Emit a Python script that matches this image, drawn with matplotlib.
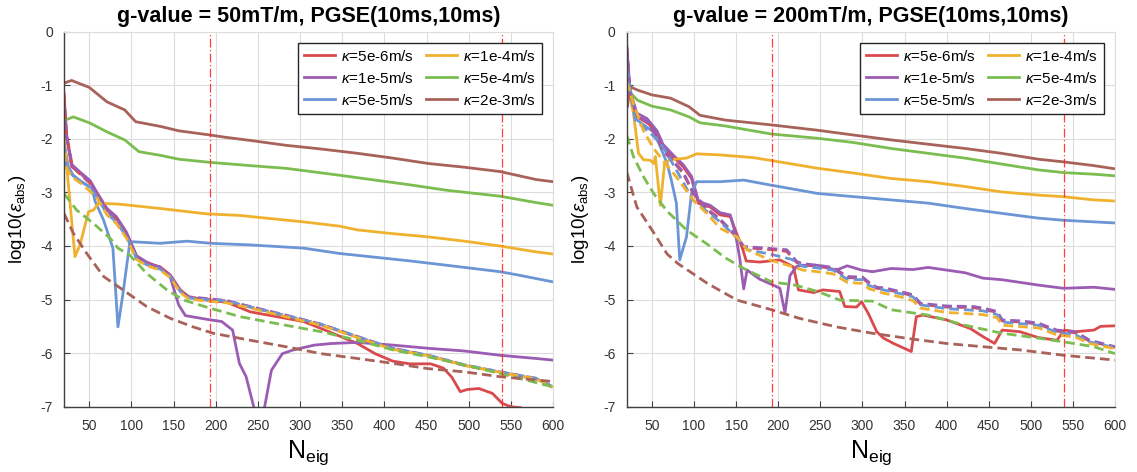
import matplotlib
matplotlib.use("Agg")
import matplotlib.pyplot as plt

# ----- Matplotlib settings -----
plt.rcParams["font.family"] = ["Liberation Sans", "DejaVu Sans"]
plt.rcParams["mathtext.fontset"] = "custom"
plt.rcParams["mathtext.rm"] = "Liberation Sans"
plt.rcParams["mathtext.it"] = "Liberation Sans:italic"
plt.rcParams["mathtext.bf"] = "Liberation Sans:bold"
plt.rcParams["axes.unicode_minus"] = False

# ===== data: left panel, g = 50 mT/m =====
# solid lines
N_L_5e6 = [20, 23, 29, 39, 51, 59, 71, 82, 94, 106, 118, 134, 146, 158, 168, 189, 213, 241, 283, 304, 325, 368,
           389, 410, 430, 455, 470, 480, 490, 498, 512, 528, 540, 550, 562, 575]
Y_L_5e6 = [-1.15, -1.90, -2.52, -2.64, -2.80, -3.02, -3.33, -3.48, -3.76, -4.20, -4.32, -4.39, -4.54, -4.82, -4.95,
           -5.01, -5.05, -5.23, -5.35, -5.41, -5.54, -5.82, -6.01, -6.15, -6.20, -6.20, -6.28, -6.45, -6.72, -6.68,
           -6.66, -6.75, -6.94, -7.00, -7.02, -7.40]
N_L_1e5 = [20, 23, 29, 39, 51, 59, 71, 82, 94, 106, 118, 134, 146, 156, 164, 190, 207, 220, 228, 236, 245, 250,
           258, 266, 279, 292, 317, 338, 368, 410, 452, 495, 537, 580, 600]
Y_L_1e5 = [-1.35, -1.95, -2.48, -2.62, -2.78, -3.00, -3.30, -3.45, -3.74, -4.18, -4.30, -4.40, -4.58, -5.10, -5.30,
           -5.37, -5.41, -5.57, -6.19, -6.44, -7.00, -7.30, -7.00, -6.32, -6.01, -5.94, -5.85, -5.82, -5.80, -5.85,
           -5.91, -5.96, -6.04, -6.10, -6.13]
N_L_5e5 = [20, 25, 31, 43, 53, 57, 67, 78, 84, 90, 98, 100, 134, 166, 194, 241, 304, 347, 389, 431, 474, 537, 558, 600]
Y_L_5e5 = [-2.05, -2.52, -2.68, -2.83, -2.92, -3.17, -3.52, -4.04, -5.51, -4.88, -3.94, -3.92, -3.95, -3.91, -3.95,
           -3.98, -4.04, -4.14, -4.21, -4.28, -4.36, -4.48, -4.54, -4.67]
N_L_1e4 = [20, 26, 33, 39, 49, 55, 61, 86, 134, 189, 229, 241, 304, 347, 368, 410, 452, 495, 537, 580, 600]
Y_L_1e4 = [-1.93, -3.00, -4.20, -3.98, -3.36, -3.33, -3.20, -3.22, -3.30, -3.40, -3.43, -3.45, -3.55, -3.63, -3.70,
           -3.77, -3.83, -3.91, -4.00, -4.11, -4.15]
N_L_5e4 = [20, 31, 50, 71, 92, 109, 135, 156, 194, 241, 283, 308, 347, 389, 431, 474, 537, 580, 600]
Y_L_5e4 = [-1.66, -1.59, -1.70, -1.87, -2.02, -2.24, -2.31, -2.38, -2.44, -2.50, -2.55, -2.60, -2.68, -2.77, -2.86,
           -2.96, -3.07, -3.19, -3.24]
N_L_2e3 = [20, 29, 50, 71, 92, 105, 135, 156, 194, 211, 241, 283, 325, 368, 410, 452, 495, 537, 580, 600]
Y_L_2e3 = [-0.96, -0.91, -1.04, -1.31, -1.46, -1.68, -1.77, -1.85, -1.93, -1.97, -2.03, -2.12, -2.19, -2.27, -2.36,
           -2.46, -2.53, -2.61, -2.76, -2.80]

# dashed lines
N_L_dash = [20, 23, 30, 39, 51, 59, 71, 82, 94, 106, 118, 134, 146, 158, 168, 189, 213, 241, 283, 325, 368, 410,
            452, 495, 537, 580, 600]
Y_L_5e6_d = [-1.18, -1.92, -2.52, -2.66, -2.83, -3.04, -3.35, -3.50, -3.78, -4.21, -4.33, -4.41, -4.56, -4.84,
             -4.96, -4.99, -5.03, -5.14, -5.30, -5.47, -5.70, -5.92, -6.05, -6.23, -6.36, -6.48, -6.64]
Y_L_1e5_d = [-1.38, -1.98, -2.50, -2.64, -2.81, -3.02, -3.33, -3.49, -3.77, -4.20, -4.32, -4.40, -4.55, -4.83,
             -4.95, -4.98, -5.02, -5.13, -5.29, -5.46, -5.69, -5.91, -6.04, -6.22, -6.35, -6.47, -6.63]
Y_L_5e5_d = [-2.08, -2.50, -2.68, -2.78, -2.90, -3.08, -3.40, -3.55, -3.82, -4.23, -4.35, -4.43, -4.57, -4.85,
             -4.97, -5.00, -5.03, -5.14, -5.30, -5.46, -5.69, -5.91, -6.04, -6.22, -6.35, -6.47, -6.63]
Y_L_1e4_d = [-2.24, -2.55, -2.72, -2.82, -2.98, -3.10, -3.42, -3.58, -3.85, -4.25, -4.37, -4.45, -4.59, -4.87,
             -4.99, -5.03, -5.06, -5.16, -5.32, -5.48, -5.71, -5.93, -6.05, -6.23, -6.36, -6.48, -6.64]
N_L_5e4_d = [20, 35, 55, 75, 84, 98, 118, 142, 162, 193, 229, 283, 325, 368, 410, 452, 495, 537, 600]
Y_L_5e4_d = [-3.02, -3.33, -3.58, -3.86, -4.04, -4.17, -4.51, -4.82, -5.01, -5.16, -5.32, -5.48, -5.60, -5.76,
             -5.94, -6.07, -6.22, -6.38, -6.63]
N_L_2e3_d = [20, 31, 47, 67, 90, 118, 146, 173, 197, 241, 283, 325, 368, 410, 452, 495, 537, 600]
Y_L_2e3_d = [-3.39, -3.76, -4.14, -4.57, -4.82, -5.13, -5.35, -5.51, -5.63, -5.76, -5.88, -6.01, -6.10, -6.19,
             -6.29, -6.35, -6.44, -6.53]

# ===== data: right panel, g = 200 mT/m =====
N_R_5e6 = [20, 24, 32, 44, 56, 63, 75, 87, 97, 105, 111, 119, 131, 143, 149, 158, 162, 178, 202, 218, 224, 242,
           253, 273, 279, 293, 299, 307, 317, 325, 337, 358, 364, 372, 400, 428, 443, 457, 466, 487, 509, 531, 540,
           553, 575, 583, 600]
Y_R_5e6 = [-0.30, -1.21, -1.59, -1.68, -1.90, -2.15, -2.33, -2.52, -2.74, -3.20, -3.24, -3.27, -3.42, -3.45, -3.70,
           -4.07, -4.28, -4.30, -4.26, -4.39, -4.82, -4.87, -4.82, -4.85, -5.13, -5.14, -5.04, -5.26, -5.60, -5.72,
           -5.82, -5.97, -5.32, -5.29, -5.38, -5.54, -5.69, -5.82, -5.57, -5.60, -5.71, -5.76, -5.57, -5.60, -5.57,
           -5.50, -5.49]
N_R_1e5 = [20, 24, 32, 44, 56, 63, 75, 87, 97, 105, 111, 119, 131, 143, 149, 154, 159, 163, 178, 194, 202, 208,
           214, 222, 229, 247, 269, 282, 299, 312, 334, 360, 378, 422, 443, 466, 509, 539, 575, 600]
Y_R_1e5 = [-0.25, -1.10, -1.52, -1.62, -1.85, -2.10, -2.30, -2.48, -2.70, -3.15, -3.20, -3.24, -3.38, -3.42, -3.76,
           -4.20, -4.80, -4.45, -4.62, -4.73, -4.79, -5.25, -4.55, -4.38, -4.36, -4.36, -4.45, -4.37, -4.45, -4.48,
           -4.42, -4.44, -4.40, -4.50, -4.60, -4.63, -4.73, -4.79, -4.77, -4.81]
N_R_5e5 = [20, 22, 30, 40, 52, 60, 68, 73, 79, 83, 91, 97, 103, 131, 159, 190, 247, 290, 334, 378, 422, 465, 509,
           539, 575, 600]
Y_R_5e5 = [-0.68, -0.84, -1.62, -1.74, -1.87, -2.15, -2.46, -2.77, -3.20, -4.26, -3.83, -3.02, -2.80, -2.80, -2.77,
           -2.86, -3.02, -3.08, -3.14, -3.20, -3.30, -3.39, -3.48, -3.52, -3.55, -3.57]
N_R_1e4 = [20, 28, 34, 40, 48, 52, 54, 60, 65, 71, 91, 103, 131, 170, 190, 247, 290, 334, 378, 422, 465, 509, 539,
           575, 600]
Y_R_1e4 = [-0.93, -1.52, -2.27, -2.39, -2.40, -2.46, -2.33, -3.24, -2.46, -2.39, -2.36, -2.28, -2.30, -2.35, -2.40,
           -2.55, -2.64, -2.74, -2.80, -2.89, -2.99, -3.05, -3.08, -3.14, -3.16]
N_R_5e4 = [20, 25, 33, 50, 72, 94, 107, 137, 192, 247, 290, 334, 378, 422, 465, 509, 539, 575, 600]
Y_R_5e4 = [-0.85, -1.15, -1.28, -1.39, -1.46, -1.59, -1.70, -1.76, -1.91, -1.99, -2.07, -2.18, -2.27, -2.36, -2.47,
           -2.58, -2.63, -2.66, -2.69]
N_R_2e3 = [20, 21, 23, 33, 50, 72, 94, 107, 137, 192, 247, 290, 334, 378, 422, 465, 509, 539, 575, 600]
Y_R_2e3 = [-0.95, -1.40, -1.02, -1.09, -1.18, -1.24, -1.40, -1.56, -1.65, -1.74, -1.84, -1.93, -2.02, -2.10, -2.18,
           -2.27, -2.38, -2.43, -2.50, -2.56]

# dashed lines
N_R_dash = [20, 24, 32, 44, 56, 63, 75, 87, 99, 115, 131, 151, 159, 186, 200, 210, 222, 229, 247, 265, 282, 300,
            308, 317, 325, 345, 360, 369, 400, 432, 443, 460, 466, 490, 509, 531, 553, 570, 600]
Y_R_5e6_d = [-0.30, -1.18, -1.58, -1.70, -1.96, -2.22, -2.42, -2.64, -3.02, -3.32, -3.52, -3.84, -4.03, -4.06,
             -4.08, -4.10, -4.31, -4.35, -4.38, -4.42, -4.59, -4.60, -4.70, -4.79, -4.80, -4.87, -4.93, -5.09,
             -5.14, -5.15, -5.18, -5.24, -5.40, -5.42, -5.46, -5.59, -5.62, -5.78, -5.89]
Y_R_1e5_d = [-0.28, -1.12, -1.55, -1.68, -1.95, -2.20, -2.40, -2.62, -3.00, -3.30, -3.50, -3.82, -4.01, -4.04,
             -4.06, -4.07, -4.29, -4.33, -4.36, -4.40, -4.57, -4.58, -4.68, -4.77, -4.78, -4.85, -4.91, -5.07,
             -5.12, -5.13, -5.16, -5.22, -5.38, -5.40, -5.44, -5.57, -5.60, -5.76, -5.88]
N_R_5e5_d = [20, 30, 40, 52, 63, 79, 99, 115, 131, 151, 163, 190, 216, 229, 247, 265, 282, 300, 308, 325, 345, 360,
             369, 400, 443, 460, 466, 509, 531, 553, 570, 600]
Y_R_5e5_d = [-0.68, -1.65, -1.78, -1.95, -2.15, -2.58, -3.15, -3.35, -3.55, -3.85, -4.07, -4.15, -4.25, -4.38,
             -4.41, -4.45, -4.62, -4.63, -4.74, -4.82, -4.89, -4.95, -5.10, -5.17, -5.21, -5.28, -5.42, -5.48,
             -5.61, -5.66, -5.79, -5.90]
N_R_1e4_d = [20, 28, 40, 52, 63, 79, 99, 115, 131, 151, 163, 190, 218, 229, 247, 265, 282, 300, 308, 325, 345, 360,
             369, 400, 443, 460, 466, 509, 531, 553, 570, 600]
Y_R_1e4_d = [-0.93, -1.34, -1.85, -2.18, -2.40, -2.71, -3.14, -3.39, -3.67, -3.83, -4.07, -4.26, -4.39, -4.45,
             -4.48, -4.52, -4.68, -4.70, -4.80, -4.88, -4.95, -5.02, -5.16, -5.24, -5.28, -5.34, -5.48, -5.53,
             -5.66, -5.70, -5.82, -5.92]
N_R_5e4_d = [20, 28, 40, 52, 68, 91, 116, 137, 159, 192, 220, 247, 273, 312, 334, 378, 422, 466, 509, 539, 575, 600]
Y_R_5e4_d = [-1.93, -2.33, -2.71, -3.02, -3.35, -3.70, -3.97, -4.22, -4.42, -4.67, -4.73, -4.85, -5.01, -5.03,
             -5.19, -5.29, -5.48, -5.63, -5.72, -5.79, -5.88, -6.01]
N_R_2e3_d = [20, 32, 52, 68, 81, 116, 151, 192, 225, 269, 312, 356, 400, 443, 487, 539, 600]
Y_R_2e3_d = [-2.62, -3.27, -3.75, -4.15, -4.33, -4.70, -5.01, -5.19, -5.35, -5.51, -5.63, -5.73, -5.82, -5.88,
             -5.94, -6.04, -6.13]

KAPPA_LABELS = ["5e-6", "1e-5", "5e-5", "1e-4", "5e-4", "2e-3"]
COLORS = ["#DA4A4D", "#9B5CB4", "#6B95D5", "#F0B12E", "#7BBD50", "#A8625A"]
TITLES = ["g-value = 50mT/m, PGSE(10ms,10ms)", "g-value = 200mT/m, PGSE(10ms,10ms)"]
VLINES = [193, 539]

LEFT_SOLID = [(N_L_5e6, Y_L_5e6), (N_L_1e5, Y_L_1e5), (N_L_5e5, Y_L_5e5),
              (N_L_1e4, Y_L_1e4), (N_L_5e4, Y_L_5e4), (N_L_2e3, Y_L_2e3)]
LEFT_DASH = [(N_L_dash, Y_L_5e6_d), (N_L_dash, Y_L_1e5_d), (N_L_dash, Y_L_5e5_d),
             (N_L_dash, Y_L_1e4_d), (N_L_5e4_d, Y_L_5e4_d), (N_L_2e3_d, Y_L_2e3_d)]
RIGHT_SOLID = [(N_R_5e6, Y_R_5e6), (N_R_1e5, Y_R_1e5), (N_R_5e5, Y_R_5e5),
               (N_R_1e4, Y_R_1e4), (N_R_5e4, Y_R_5e4), (N_R_2e3, Y_R_2e3)]
RIGHT_DASH = [(N_R_dash, Y_R_5e6_d), (N_R_dash, Y_R_1e5_d), (N_R_5e5_d, Y_R_5e5_d),
              (N_R_1e4_d, Y_R_1e4_d), (N_R_5e4_d, Y_R_5e4_d), (N_R_2e3_d, Y_R_2e3_d)]

W, H = 1137, 472
LW = 2.0


def draw_panel(ax, solid, dashed, title):
    for (n, y), c, k in zip(solid, COLORS, KAPPA_LABELS):
        ax.plot(n, y, color=c, lw=LW, label=r"$\kappa$=" + k + "m/s")
    for (n, y), c in zip(dashed, COLORS):
        ax.plot(n, y, color=c, lw=LW, ls=(0, (3.5, 1.8)))
    for v in VLINES:
        ax.axvline(v, color="#ff2a2a", lw=0.9, ls=(0, (7, 2, 1, 2)), alpha=0.9)

    ax.set_xlim(20, 600)
    ax.set_ylim(-7, 0)
    ax.set_xticks(range(50, 601, 50))
    ax.set_yticks(range(-7, 1))
    ax.grid(True, color="#dcdcdc", lw=0.8)
    ax.set_axisbelow(True)
    for s in ["top", "right"]:
        ax.spines[s].set_color("#dcdcdc")
        ax.spines[s].set_linewidth(0.8)
    for s in ["left", "bottom"]:
        ax.spines[s].set_color("#404040")
        ax.spines[s].set_linewidth(1.0)
    ax.tick_params(direction="in", length=4, width=0.8, color="#404040",
                   labelsize=10, labelcolor="#333333", pad=9)
    ax.tick_params(axis="y", pad=8)

    ax.set_title(title, fontsize=15.5, fontweight="bold", pad=7)
    ax.set_xlabel(r"N$_{\rm eig}$", fontsize=18)
    ax.set_ylabel(r"log10($\epsilon_{\rm abs}$)", fontsize=13.5)
    ax.xaxis.set_label_coords(0.5, -0.085)
    ax.yaxis.set_label_coords(-0.074, 0.5)

    leg = ax.legend(loc="upper right", bbox_to_anchor=(1 - 11 / 489, 1 - 11 / 375),
                    borderaxespad=0, ncol=2, fontsize=11, handlelength=2.0,
                    handletextpad=0.4, columnspacing=0.8, labelspacing=0.45,
                    fancybox=False, framealpha=1, borderpad=0.4)
    leg.get_frame().set_edgecolor("#262626")
    leg.get_frame().set_linewidth(1.0)


fig = plt.figure(figsize=(W / 100, H / 100), dpi=100)
bottom = 1 - 406.7 / H
height = (406.7 - 31.7) / H
ax1 = fig.add_axes([64 / W, bottom, (553 - 64) / W, height])
ax2 = fig.add_axes([626.7 / W, bottom, (1115 - 626.7) / W, height])

draw_panel(ax1, LEFT_SOLID, LEFT_DASH, TITLES[0])
draw_panel(ax2, RIGHT_SOLID, RIGHT_DASH, TITLES[1])

fig.savefig("out.png", dpi=100)
